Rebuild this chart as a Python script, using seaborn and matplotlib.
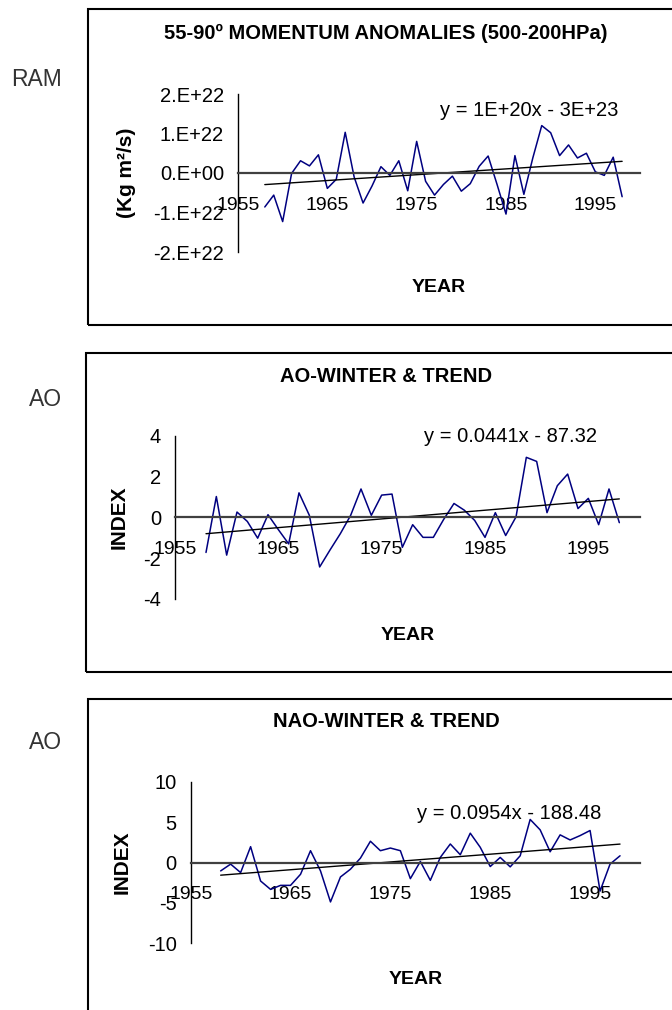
import matplotlib
matplotlib.use("Agg")
import matplotlib.pyplot as plt
from matplotlib.patches import Rectangle
import numpy as np
import pandas as pd
import seaborn as sns

# --- data ---
years = list(range(1958, 1999))

# relative angular momentum anomalies, in units of 1E+22 kg m2/s
ram_e22 = [-0.86, -0.56, -1.23, -0.01, 0.31, 0.18, 0.46, -0.39, -0.16, 1.03,
           -0.10, -0.76, -0.33, 0.16, -0.06, 0.31, -0.45, 0.80, -0.21, -0.56,
           -0.29, -0.08, -0.46, -0.27, 0.17, 0.43, -0.29, -1.04, 0.44, -0.54,
           0.38, 1.20, 1.02, 0.44, 0.71, 0.38, 0.50, 0.03, -0.06, 0.40, -0.60]

ao_index = [-1.72, 1.02, -1.85, 0.26, -0.20, -1.02, 0.13, -0.60, -1.30, 1.20,
            0.10, -2.43, -1.60, -0.80, 0.10, 1.39, 0.10, 1.09, 1.14, -1.47,
            -0.36, -0.98, -0.98, -0.10, 0.68, 0.35, -0.15, -0.98, 0.23, -0.89,
            0.02, 2.94, 2.74, 0.23, 1.55, 2.12, 0.43, 0.93, -0.36, 1.39, -0.26]

nao_index = [-1.04, -0.20, -1.25, 1.96, -2.29, -3.33, -2.83, -2.83, -1.46, 1.46,
             -1.04, -4.88, -1.79, -0.83, 0.54, 2.63, 1.46, 1.79, 1.46, -2.00,
             0.13, -2.21, 0.63, 2.29, 0.96, 3.63, 1.88, -0.50, 0.63, -0.54,
             0.83, 5.33, 4.04, 1.33, 3.42, 2.79, 3.33, 3.96, -3.54, -0.20, 0.83]

year_ticks = [1955, 1965, 1975, 1985, 1995]
ram_ticks = [2e22, 1e22, 0, -1e22, -2e22]
ram_tick_labels = ["2.E+22", "1.E+22", "0.E+00", "-1.E+22", "-2.E+22"]
ao_ticks = [4, 2, 0, -2, -4]
nao_ticks = [10, 5, 0, -5, -10]

titles = ["55-90º MOMENTUM ANOMALIES (500-200HPa)", "AO-WINTER & TREND", "NAO-WINTER & TREND"]
side_labels = ["RAM", "AO", "AO"]
y_labels = ["(Kg m²/s)", "INDEX", "INDEX"]
equations = ["y = 1E+20x - 3E+23", "y = 0.0441x - 87.32", "y = 0.0954x - 188.48"]

df = pd.DataFrame({"year": years,
                   "ram": np.array(ram_e22) * 1e22,
                   "ao": ao_index,
                   "nao": nao_index})

sns.set_style("white")
plt.rcParams["font.family"] = ["Liberation Sans", "DejaVu Sans"]
plt.rcParams["axes.unicode_minus"] = False
plt.rcParams["text.color"] = "black"
plt.rcParams["xtick.color"] = "black"
plt.rcParams["ytick.color"] = "black"

W, H = 672, 1010
fig = plt.figure(figsize=(W / 100, H / 100), dpi=100)


def fx(x):
    return x / W


def fy(y):
    return 1 - y / H


def make_axes(x0, x1, ytop, ybot):
    return fig.add_axes([fx(x0), fy(ybot), (x1 - x0) / W, (ybot - ytop) / H])


# panel frames (they run off the right edge, as in the source)
frames = [(88, 9, 325), (86, 353, 672), (88, 699, 1030)]
for left, top, bot in frames:
    fig.patches.append(Rectangle((fx(left), fy(bot)), 1.2, (bot - top) / H,
                                 transform=fig.transFigure, fill=False,
                                 edgecolor="black", linewidth=1.5))

panels = [
    # col, axes box (x0, x1, ytop, ybot), ylim, ticks, title y, ylabel x, year y, eq pos, side y
    ("ram", (238, 640, 94, 252), (-2e22, 2e22), ram_ticks, 33.5, 127, 287.5, (440, 110), 79.5),
    ("ao", (175, 640, 435.7, 599), (-4, 4), ao_ticks, 377, 119.5, 636, (424, 436.7), 400),
    ("nao", (190.7, 640, 781.7, 943.3), (-10, 10), nao_ticks, 721.7, 121.7, 980, (417, 813.3), 742.7),
]

for i, (col, box, ylim, yticks, ty, ylx, yeary, eqpos, sidey) in enumerate(panels):
    x0, x1, ytop, ybot = box
    ax = make_axes(x0, x1, ytop, ybot)
    ax.patch.set_alpha(0)

    sns.lineplot(data=df, x="year", y=col, ax=ax, color="#000080", linewidth=1.1)
    sns.regplot(data=df, x="year", y=col, ax=ax, scatter=False, ci=None,
                line_kws={"color": "black", "linewidth": 1.0})

    ax.set_xlim(1955, 2000)
    ax.set_ylim(*ylim)
    ax.set_xticks(year_ticks)
    ax.set_yticks(yticks)
    if col == "ram":
        ax.set_yticklabels(ram_tick_labels)
    ax.set_xlabel("")
    ax.set_ylabel("")

    for s in ["top", "right"]:
        ax.spines[s].set_visible(False)
    ax.spines["bottom"].set_position(("data", 0))
    ax.spines["bottom"].set_color("#404040")
    ax.spines["bottom"].set_linewidth(1.6)
    ax.spines["left"].set_color("black")
    ax.spines["left"].set_linewidth(1.0)

    ax.tick_params(axis="x", direction="out", length=5, width=1, pad=12,
                   labelsize=14, color="#404040", labelcolor="black")
    ax.tick_params(axis="y", direction="out", length=5, width=1, pad=5,
                   labelsize=14.5, color="black", labelcolor="black")

    ax_w = x1 - x0
    ax_h = ybot - ytop
    # y-axis title
    ax.text((ylx - x0) / ax_w, (ybot - (ytop + ybot) / 2) / ax_h, y_labels[i],
            transform=ax.transAxes, rotation=90, ha="center", va="center",
            fontsize=15, fontweight="bold", color="black")
    # x-axis title
    ax.text(0.5, (ybot - yeary) / ax_h, "YEAR", transform=ax.transAxes,
            ha="center", va="center", fontsize=14, fontweight="bold", color="black")
    # trend equation
    ax.text((eqpos[0] - x0) / ax_w, (ybot - eqpos[1]) / ax_h, equations[i],
            transform=ax.transAxes, ha="left", va="center", fontsize=14.5, color="black")

    fig.text(fx(386), fy(ty), titles[i], ha="center", va="center",
             fontsize=14.5, fontweight="bold", color="black")
    fig.text(fx(62), fy(sidey), side_labels[i], ha="right", va="center",
             fontsize=16.5, color="#333333")

fig.savefig("out.png", dpi=100)
